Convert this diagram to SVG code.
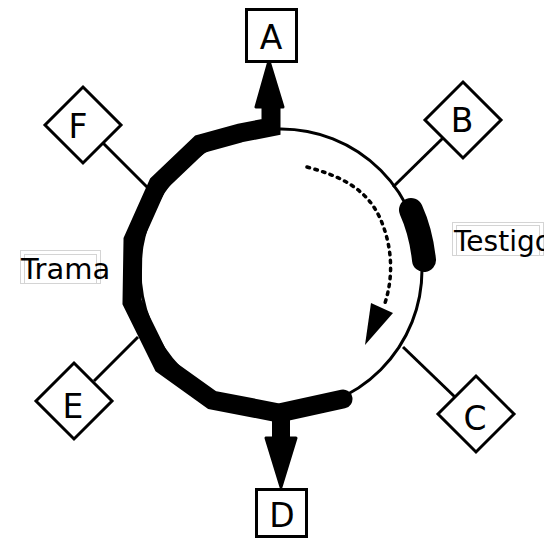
<svg xmlns="http://www.w3.org/2000/svg" width="553" height="539" viewBox="0 0 553 539">
<style>
.lbl{font-family:"DejaVu Sans","Liberation Sans",sans-serif;fill:#000}
.node{font-family:"DejaVu Sans","Liberation Sans",sans-serif;font-size:33px;text-anchor:middle;fill:#000}
.shape{fill:#fff;stroke:#000;stroke-width:3;stroke-linejoin:miter}
.thin{fill:none;stroke:#000;stroke-width:3}
.thick{fill:none;stroke:#000;stroke-width:19;stroke-linejoin:miter;stroke-linecap:round}
.head{fill:#000;stroke:#000;stroke-width:3;stroke-linejoin:round}
.tbox{fill:none;stroke:#d4d4d4;stroke-width:1}
</style>
<defs>
<clipPath id="clipT"><rect x="440" y="215" width="104" height="50"/></clipPath>
</defs>
<rect x="0" y="0" width="553" height="539" fill="#fff"/>
<g id="ring">
<circle class="thin" cx="281" cy="270" r="141"/>
</g>
<g id="connectors">
<line class="thin" x1="393" y1="187" x2="444" y2="137"/>
<line class="thin" x1="148" y1="188" x2="102" y2="142"/>
<line class="thin" x1="138" y1="337" x2="94" y2="381"/>
<line class="thin" x1="403" y1="347" x2="456" y2="398"/>
<path class="thick" d="M271,104 L271,127 L240,133 L200,144 L158,184 L133,240 L132,302 L163,365 L212,400 L279,413 L343,399"/>
<path d="M281,410 L281,440" stroke="#000" stroke-width="18" fill="none"/>
<polygon class="head" points="269,61 256,107 283,107"/>
<polygon class="head" points="281,487 266,438 296,438"/>
<path d="M411,210 Q421,232 424,260" fill="none" stroke="#000" stroke-width="24" stroke-linecap="round"/>
<path d="M307,167 C340,176 366,188 380,218 C392,245 394,275 385,303" fill="none" stroke="#000" stroke-width="3.5" stroke-dasharray="2.5 5.5" stroke-linecap="round"/>
<polygon points="371,303 393,313 365,345" fill="#000"/>
</g>
<g id="node-A">
<rect class="shape" x="246.5" y="9.5" width="50" height="52"/>
<text class="node" x="271" y="49">A</text>
</g>
<g id="node-B">
<polygon class="shape" points="463,82 501,120 463,158 425,120"/>
<text class="node" x="462" y="132">B</text>
</g>
<g id="node-C">
<polygon class="shape" points="476,376 514,414 476,452 438,414"/>
<text class="node" x="475" y="430">C</text>
</g>
<g id="node-D">
<rect class="shape" x="256.5" y="489.5" width="50" height="47"/>
<text class="node" x="282" y="527">D</text>
</g>
<g id="node-E">
<polygon class="shape" points="74,363 112,401 74,439 36,401"/>
<text class="node" x="73" y="418">E</text>
</g>
<g id="node-F">
<polygon class="shape" points="83,87 121,125 83,163 45,125"/>
<text class="node" x="78" y="138">F</text>
</g>
<g id="label-trama">
<rect class="tbox" x="20.5" y="250.5" width="80" height="33"/>
<rect class="tbox" x="24.5" y="254.5" width="72" height="29" stroke="#e6e6e6"/>
<text class="lbl" x="21" y="279" font-size="29">Trama</text>
</g>
<g id="label-testigo">
<rect class="tbox" x="452.5" y="222.5" width="91" height="33"/>
<rect class="tbox" x="456.5" y="225.5" width="83" height="30" stroke="#e6e6e6"/>
<text class="lbl" x="454" y="251" font-size="28" clip-path="url(#clipT)">Testigo</text>
</g>
</svg>
